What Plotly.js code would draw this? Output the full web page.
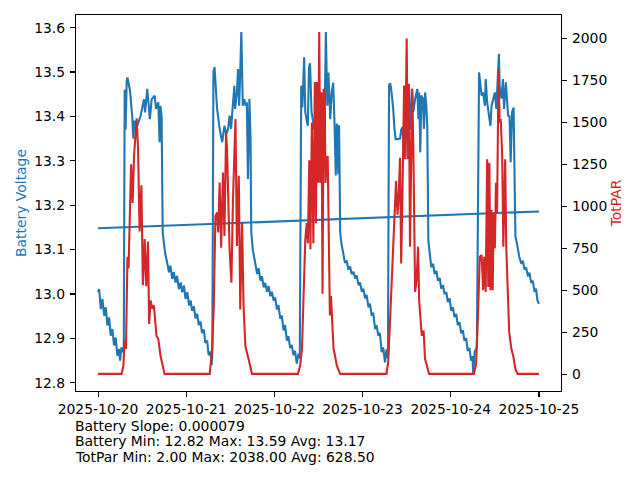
<!DOCTYPE html>
<html>
<head>
<meta charset="utf-8">
<script src="https://cdn.plot.ly/plotly-3.0.1.min.js"></script>
<style>html,body{margin:0;padding:0;background:#fff;}#chart{width:640px;height:480px;}</style>
</head>
<body>
<div id="chart"></div>
<script>
// Hours since 2025-10-20 00:00 and battery voltage readings
const voltHours = [0,0.3,0.75,1.2,1.65,2.1,2.55,3.0,3.45,3.9,4.35,4.8,5.25,5.7,6.0,6.35,6.7,7.0,7.25,7.5,7.8,8.0,8.7,9.3,9.6,9.9,10.7,11.6,12.5,12.8,13.4,14.1,14.6,15.4,15.8,16.4,16.75,17.0,17.3,17.6,17.9,
18.3,18.8,19.3,19.7,20.2,20.6,21.1,21.5,22.0,22.5,22.9,23.4,23.8,24.3,24.8,25.2,25.6,26.1,26.5,27.0,27.4,27.9,28.3,28.8,29.2,29.7,30.1,30.6,30.9,31.1,
31.4,31.7,32.0,32.4,33.1,33.5,33.8,34.1,34.4,34.9,35.4,35.8,36.2,36.75,37.1,37.3,37.8,38.1,38.4,38.7,39.0,39.4,39.8,40.2,40.5,40.8,41.2,41.5,41.7,42.1,
42.5,42.8,43.3,43.7,44.2,44.6,45.1,45.5,46.0,46.4,46.9,47.3,47.8,48.2,48.7,49.1,49.6,50.0,50.5,50.9,51.4,51.8,52.3,52.7,53.2,53.6,54.1,54.5,54.9,
55.3,55.6,56.1,56.4,56.8,57.1,57.4,57.7,58.1,58.5,58.9,59.3,59.8,60.2,60.7,61.0,61.6,62.0,62.4,62.7,63.2,63.6,64.0,64.4,64.7,65.0,65.4,65.6,65.9,66.2,
66.8,67.2,67.7,68.1,68.6,69.0,69.5,70.0,70.4,70.9,71.3,71.8,72.2,72.7,73.1,73.6,74.0,74.5,74.9,75.4,75.8,76.3,76.7,77.2,77.6,78.1,78.5,78.9,
79.2,79.5,79.8,80.3,80.7,81.0,81.6,82.2,82.5,82.9,83.1,83.5,84.0,84.5,84.9,85.4,85.8,86.3,86.9,87.2,87.4,87.7,88.0,88.4,88.7,89.0,89.3,89.6,89.9,90.3,
90.7,91.2,91.6,92.1,92.5,93.0,93.4,93.9,94.3,94.8,95.2,95.7,96.1,96.6,97.0,97.5,97.9,98.4,98.8,99.3,99.7,100.2,100.6,101.1,101.5,101.9,102.1,102.5,103.1,
103.7,104.0,104.4,104.8,105.3,105.5,105.9,106.4,106.8,107.1,107.5,108.0,108.4,108.7,109.1,109.3,109.8,110.2,110.5,111.0,111.6,112.0,112.3,112.7,113.1,113.3,113.6,114.1,
114.6,115.2,115.6,116.1,116.5,117.0,117.4,117.9,118.3,118.8,119.2,119.6,120.0];
const voltValues = [13.004,13.011,12.966,12.989,12.951,12.970,12.929,12.947,12.906,12.921,12.884,12.902,12.861,12.876,12.850,12.880,12.869,12.875,13.46,13.37,13.48,13.488,13.458,13.40,13.35,13.39,13.379,13.402,13.439,13.409,13.462,13.394,13.439,13.447,13.417,13.432,13.342,13.424,13.40,13.14,13.116,
13.09,13.071,13.049,13.064,13.034,13.049,13.026,13.041,13.011,13.026,13.004,13.019,12.989,13.004,12.974,12.985,12.962,12.972,12.945,12.955,12.930,12.938,12.912,12.920,12.890,12.895,12.862,12.870,12.840,12.860,
13.50,13.511,13.47,13.417,13.372,13.349,13.342,13.36,13.379,13.36,13.372,13.402,13.372,13.432,13.469,13.417,13.454,13.507,13.424,13.50,13.59,13.424,13.439,13.424,13.432,13.259,13.439,13.35,13.14,13.101,
13.08,13.068,13.045,13.058,13.030,13.040,13.015,13.025,13.005,13.018,12.995,13.005,12.985,12.992,12.965,12.975,12.944,12.952,12.918,12.930,12.895,12.905,12.878,12.885,12.862,12.872,12.843,12.865,12.855,
13.469,13.42,13.533,13.41,13.391,13.379,13.51,13.52,13.41,13.39,13.37,13.415,13.379,13.455,13.379,13.44,13.372,13.59,13.424,13.499,13.394,13.454,13.476,13.372,13.267,13.384,13.27,13.38,13.14,13.116,
13.083,13.070,13.075,13.055,13.062,13.045,13.050,13.035,13.042,13.020,13.026,13.005,13.012,12.990,12.998,12.970,12.978,12.951,12.958,12.921,12.930,12.906,12.912,12.869,12.880,12.846,12.875,12.855,
13.47,13.475,13.46,13.42,13.37,13.349,13.349,13.35,13.37,13.376,13.33,13.40,13.38,13.44,13.37,13.462,13.41,13.44,13.462,13.394,13.454,13.319,13.447,13.44,13.372,13.454,13.43,13.379,13.12,13.08,
13.060,13.068,13.045,13.052,13.030,13.036,13.012,13.020,13.000,13.004,12.982,12.990,12.962,12.970,12.948,12.955,12.930,12.936,12.912,12.918,12.895,12.900,12.872,12.878,12.850,12.860,12.820,12.870,12.880,
13.499,13.47,13.447,13.454,13.424,13.484,13.432,13.402,13.379,13.424,13.439,13.454,13.417,13.462,13.541,13.469,13.44,13.484,13.417,13.477,13.402,13.40,13.297,13.41,13.42,13.30,13.13,13.11,
13.085,13.068,13.075,13.055,13.060,13.040,13.048,13.025,13.030,13.005,13.012,12.985,12.978];

// Linear trend of battery voltage (start and end of the period)
const trendHours = [0, 120];
const trendValues = [13.148, 13.186];

// Hours since 2025-10-20 00:00 and TotPAR readings
const parHours = [0,6.4,6.9,7.2,7.6,8.0,8.3,8.6,9.0,9.4,9.8,10.5,10.9,11.3,11.8,12.2,12.7,13.1,13.6,13.9,14.3,14.8,15.2,15.9,16.4,17.0,17.5,18.1,
30.4,31.05,31.5,31.95,32.4,32.7,33.1,33.5,34.0,34.4,34.85,35.1,35.8,36.3,36.7,37.4,37.8,38.3,38.7,39.2,39.6,40.1,41.0,41.9,
54.4,55.0,55.5,55.9,56.4,56.8,57.1,57.5,57.8,58.2,58.6,59.0,59.3,59.6,59.9,60.2,60.5,60.8,61.1,61.4,61.7,61.9,62.2,62.5,62.8,63.1,63.4,63.7,64.1,64.5,65.0,65.9,
78.5,79.0,79.5,80.0,80.4,80.8,81.1,81.5,81.8,82.2,82.5,82.9,83.3,83.6,84.0,84.3,84.6,84.9,85.2,85.5,85.8,86.3,86.7,87.1,87.4,87.8,88.1,88.6,89.0,89.4,90.1,
102.3,102.9,103.4,103.9,104.4,104.8,105.1,105.5,105.9,106.2,106.5,106.8,107.1,107.4,107.7,108.0,108.3,108.6,109.0,109.3,109.6,110.0,110.3,110.8,111.1,111.5,111.9,112.5,113.0,113.6,114.2,120.0];
const parValues = [2,2,50,200,150,700,630,850,1250,1020,1300,1525,1340,850,1125,530,805,525,790,300,440,390,410,230,210,110,50,2,
2,147,406,943,963,844,1142,754,1202,824,1441,1340,744,545,1023,1520,764,1182,386,903,406,167,88,2,
2,50,150,480,800,900,780,1275,745,1500,780,1740,900,1740,1140,2038,1140,1680,480,1700,1660,1140,1280,1300,700,350,466,330,150,110,50,2,
2,80,340,600,720,1020,1150,950,1050,1290,660,1140,1720,1280,2000,1280,1730,760,1300,1700,1360,490,560,760,440,280,230,260,90,60,2,
2,60,350,700,710,500,700,490,1280,520,1260,500,980,500,960,750,1140,960,1820,1500,1520,1300,760,1280,760,420,250,150,110,30,2,2];

const statLines = [
  "Battery Slope: 0.000079",
  "Battery Min: 12.82 Max: 13.59 Avg: 13.17",
  "TotPar Min: 2.00 Max: 2038.00 Avg: 628.50"
];

const startMs = Date.UTC(2025, 9, 20, 0, 0, 0);
function toDate(h) {
  return new Date(startMs + h * 3600000).toISOString().slice(0, 19).replace('T', ' ');
}

const BLUE = '#1f77b4', RED = '#d62728';
const FONT = 'DejaVu Sans, sans-serif';
const FS = 13.9;

const traces = [
  {x: voltHours.map(toDate), y: voltValues, type: 'scatter', mode: 'lines',
   line: {color: BLUE, width: 2.1}, name: 'Battery Voltage', yaxis: 'y'},
  {x: trendHours.map(toDate), y: trendValues, type: 'scatter', mode: 'lines',
   line: {color: BLUE, width: 2.1}, name: 'Trend', yaxis: 'y'},
  {x: parHours.map(toDate), y: parValues, type: 'scatter', mode: 'lines',
   line: {color: RED, width: 2.1}, name: 'TotPAR', yaxis: 'y2'}
];

const axisCommon = {
  showgrid: false, zeroline: false, showline: true, linecolor: '#000', linewidth: 1.1,
  ticks: 'outside', ticklen: 5, tickwidth: 1.1, tickcolor: '#000',
  tickfont: {family: FONT, size: FS, color: '#000'}
};

const annotations = statLines.map((t, i) => ({
  text: t, xref: 'paper', yref: 'paper', x: -0.005, y: [-0.0935, -0.1342, -0.176][i],
  xanchor: 'left', yanchor: 'middle', showarrow: false, borderpad: 0,
  font: {family: FONT, size: FS, color: '#000'}
}));

const layout = {
  width: 640, height: 480,
  margin: {l: 76, r: 79, t: 15, b: 89, pad: 0},
  paper_bgcolor: '#fff', plot_bgcolor: '#fff',
  showlegend: false,
  font: {family: FONT, size: FS, color: '#000'},
  xaxis: Object.assign({}, axisCommon, {
    type: 'date', range: ['2025-10-19 18:00:00', '2025-10-25 06:00:00'],
    tick0: '2025-10-20', dtick: 86400000, tickformat: '%Y-%m-%d', mirror: true,
    ticklabelstandoff: 0
  }),
  yaxis: Object.assign({}, axisCommon, {
    range: [12.7815, 13.6285], tick0: 12.8, dtick: 0.1, tickformat: '.1f',
    ticklabelstandoff: 2,
    title: {text: 'Battery Voltage', font: {family: FONT, size: FS, color: BLUE}, standoff: 4}
  }),
  yaxis2: Object.assign({}, axisCommon, {
    overlaying: 'y', side: 'right', range: [-99.8, 2139.8], tick0: 0, dtick: 250,
    ticklabelstandoff: 2,
    title: {text: 'TotPAR', font: {family: FONT, size: FS, color: RED}, standoff: 5}
  }),
  annotations: annotations
};

Plotly.newPlot('chart', traces, layout, {staticPlot: true, displayModeBar: false});
</script>
</body>
</html>
